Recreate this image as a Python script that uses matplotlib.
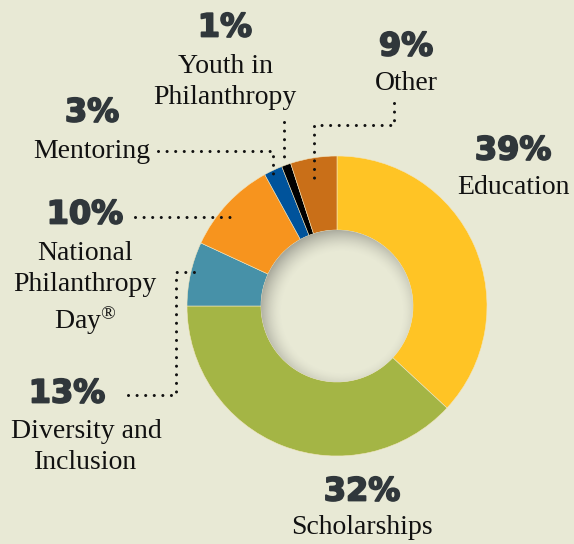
import numpy as np
import matplotlib.pyplot as plt
import matplotlib.patheffects as pe
from matplotlib.patches import Circle

plt.rcParams["mathtext.fontset"] = "custom"
plt.rcParams["mathtext.rm"] = "Liberation Serif"
plt.rcParams["mathtext.it"] = "Liberation Serif:italic"

########################################

# Data

labels = ["Education", "Scholarships", "Diversity and\nInclusion", "National\nPhilanthropy\nDay$^{\\mathrm{\u00ae}}$",
          "Mentoring", "Youth in\nPhilanthropy", "Other"]
label_pcts = ["39%", "32%", "13%", "10%", "3%", "1%", "9%"]
# Slice sizes as drawn in the picture (the printed labels do not add up to 100)
shares = [36.9, 38.1, 6.9, 10.1, 2.0, 1.0, 5.0]
colors = ["#FFC425", "#A4B545", "#4791A8", "#F7941E", "#00539B", "#000000", "#C96F18"]

bg = "#E8E9D5"
W, H = 574, 544
cx, cy = 337, 306
r_out, r_in = 150, 76

########################################

def Y(y):
    return H - y

fig = plt.figure(figsize = (W / 100, H / 100), dpi = 100, facecolor = bg)
ax = fig.add_axes([0, 0, 1, 1])
ax.set_facecolor(bg)

ax.pie(shares, colors = colors, startangle = 90, counterclock = False,
       radius = r_out, center = (cx, Y(cy)),
       wedgeprops = dict(width = r_out - r_in, linewidth = 0.4, edgecolor = "#F2E6C0"))

# Inset shadow inside the hole
n = 300
xs = np.linspace(cx - r_in, cx + r_in, n)
ys = np.linspace(cy - r_in, cy + r_in, n)
gx, gy = np.meshgrid(xs, ys)
d = np.sqrt((gx - cx - 5) ** 2 + (gy - cy - 6) ** 2)
a = np.clip((d - (r_in - 16)) / 24, 0, 1) ** 1.6 * 0.5
shadow = np.zeros((n, n, 4))
shadow[..., 0] = 0.38
shadow[..., 1] = 0.38
shadow[..., 2] = 0.36
shadow[..., 3] = a
hole = Circle((cx, Y(cy)), r_in, facecolor = bg, edgecolor = "none", zorder = 3)
ax.add_patch(hole)
im = ax.imshow(shadow, extent = (cx - r_in, cx + r_in, Y(cy + r_in), Y(cy - r_in)),
               zorder = 4, interpolation = "bilinear")
im.set_clip_path(Circle((cx, Y(cy)), r_in, transform = ax.transData))

# Labels: (percent x, percent y, label x, label y)
pct_color = "#30373B"
pct_style = dict(family = "DejaVu Sans", weight = "bold", fontsize = 23, color = pct_color,
                 ha = "center", va = "center",
                 path_effects = [pe.withStroke(linewidth = 1.3, foreground = pct_color)])
lab_style = dict(family = "Liberation Serif", fontsize = 20, color = "#111111",
                 ha = "center", va = "center", linespacing = 1.32)

positions = [(513, 151, 513, 187),
             (362, 492, 362, 527),
             (67, 394, 86, 447),
             (85, 215, 85, 289),
             (92, 113, 92, 152),
             (225, 28, 225, 82),
             (406, 47, 406, 84)]

for pct, lab, (px, py, lx, ly) in zip(label_pcts, labels, positions):
    ax.text(px, Y(py), pct, **pct_style)
    ax.text(lx, Y(ly), lab, **lab_style)

# Dotted leader lines
leaders = [[(158, 151), (273, 151), (273, 179)],
           [(284, 122), (284, 164)],
           [(394, 103), (394, 125), (314, 125), (314, 185)],
           [(135, 217), (238, 217)],
           [(128, 395), (176, 395), (176, 272), (200, 272)]]

for pts in leaders:
    px_, py_ = zip(*pts)
    ax.plot(px_, [Y(v) for v in py_], color = "#111111", linewidth = 2.2,
            linestyle = (0, (0.01, 2.8)), dash_capstyle = "round", zorder = 5)

ax.set_xlim(0, W)
ax.set_ylim(0, H)
ax.set_aspect("equal")
ax.axis("off")

plt.savefig("out.png", dpi = 100, facecolor = bg)
plt.close()
